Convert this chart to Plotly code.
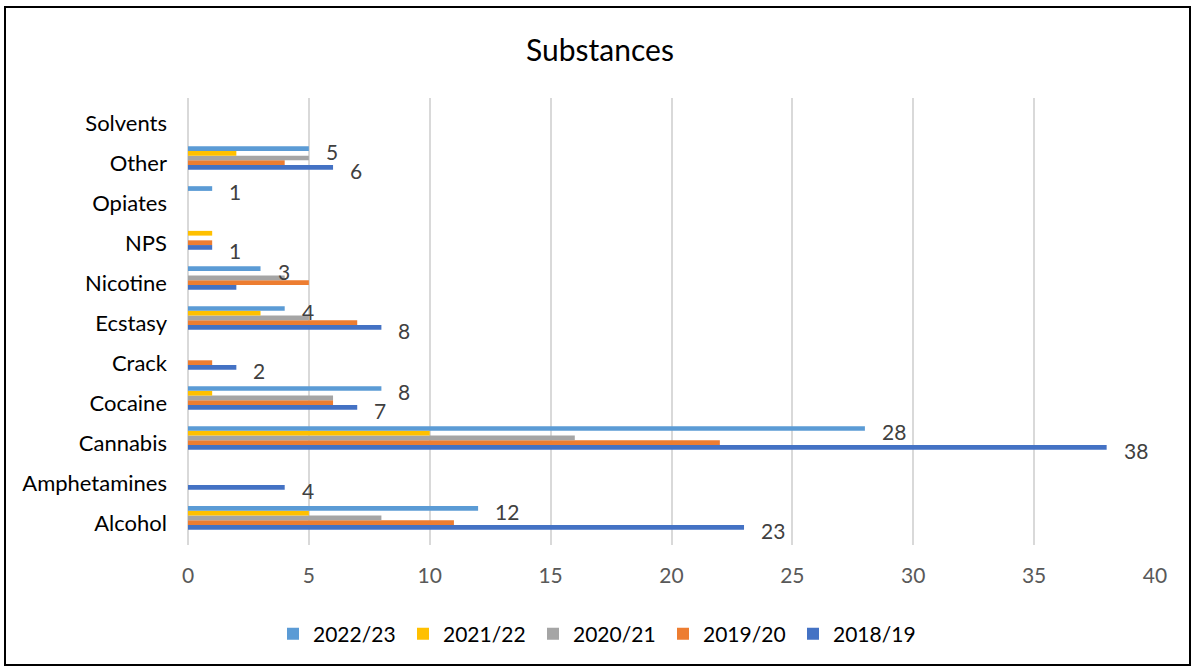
import plotly.graph_objects as go

# ---- data ----
categories = ["Alcohol", "Amphetamines", "Cannabis", "Cocaine", "Crack", "Ecstasy",
              "Nicotine", "NPS", "Opiates", "Other", "Solvents"]
s2018_19 = [23, 4, 38, 7, 2, 8, 2, 1, None, 6, None]
s2019_20 = [11, None, 22, 6, 1, 7, 5, 1, None, 4, None]
s2020_21 = [8, None, 16, 6, None, 5, 4, None, None, 5, None]
s2021_22 = [5, None, 10, 1, None, 3, None, 1, None, 2, None]
s2022_23 = [12, None, 28, 8, None, 4, 3, None, 1, 5, None]
series_names = ["2018/19", "2019/20", "2020/21", "2021/22", "2022/23"]
x_ticks = [0, 5, 10, 15, 20, 25, 30, 35, 40]
# data labels shown in the reference (2022/23 and 2018/19 only; Nicotine 2018/19 hidden)
labels_2022_23 = ["12", "", "28", "8", "", "4", "3", "", "1", "5", ""]
labels_2018_19 = ["23", "4", "38", "7", "2", "8", "", "1", "", "6", ""]

# ---- style ----
series_values = [s2018_19, s2019_20, s2020_21, s2021_22, s2022_23]
colors = ["#4472C4", "#ED7D31", "#A5A5A5", "#FFC000", "#5B9BD5"]
FONT = "Lato"
W, H = 1195, 669
ML, MR, MT, MB = 188, 40, 98, 124
BARGAP = 0.41

fig = go.Figure()
for name, vals, col in zip(series_names, series_values, colors):
    fig.add_trace(go.Bar(
        y=categories, x=vals, name=name, orientation="h",
        marker=dict(color=col, line=dict(width=0)),
    ))

plot_h = H - MT - MB
band = plot_h / len(categories)
bar_th = band * (1 - BARGAP) / len(series_names)
offset = 2 * bar_th
annotations = []
for vals, labs, ysh in [(s2022_23, labels_2022_23, offset - 3),
                        (s2018_19, labels_2018_19, -offset - 3)]:
    for cat, v, lab in zip(categories, vals, labs):
        if v is None or not lab:
            continue
        annotations.append(dict(
            x=v, y=cat, xref="x", yref="y", text=lab, showarrow=False,
            xanchor="left", yanchor="middle", xshift=15, yshift=ysh,
            font=dict(family=FONT, size=21, color="#404040"),
        ))

fig.update_layout(
    width=W, height=H,
    margin=dict(l=ML, r=MR, t=MT, b=MB),
    paper_bgcolor="white", plot_bgcolor="white",
    barmode="group", bargap=BARGAP, bargroupgap=0,
    title=dict(text="Substances", x=600 / W, xanchor="center", xref="container",
               y=1 - 50 / H, yanchor="middle", yref="container",
               font=dict(family=FONT, size=30, color="#000000")),
    font=dict(family=FONT),
    legend=dict(orientation="h", traceorder="reversed",
                xref="container", yref="container",
                x=273 / W, xanchor="left", y=1 - 634 / H, yanchor="middle",
                font=dict(family=FONT, size=21, color="#000000"),
                itemwidth=30, entrywidth=85, entrywidthmode="pixels"),
    xaxis=dict(range=[0, 40], tickvals=x_ticks, showgrid=True, gridcolor="#D9D9D9",
               gridwidth=2, zeroline=True, zerolinecolor="#D9D9D9", zerolinewidth=2,
               showline=False, ticks="", ticklabelstandoff=16,
               tickfont=dict(family=FONT, size=21, color="#595959")),
    yaxis=dict(categoryorder="array", categoryarray=categories, showgrid=False,
               showline=False, ticks="", ticklabelstandoff=20, ticklabelshift=5,
               tickfont=dict(family=FONT, size=22, color="#000000")),
    annotations=annotations,
    shapes=[dict(type="rect", xref="paper", yref="paper",
                 xsizemode="pixel", ysizemode="pixel", xanchor=0, yanchor=0,
                 x0=5 - ML, x1=1190 - ML, y0=-(665 - (H - MB)), y1=(H - MB) - 7,
                 line=dict(color="#000000", width=2), fillcolor="rgba(0,0,0,0)")],
)

fig.write_html("out.html")
